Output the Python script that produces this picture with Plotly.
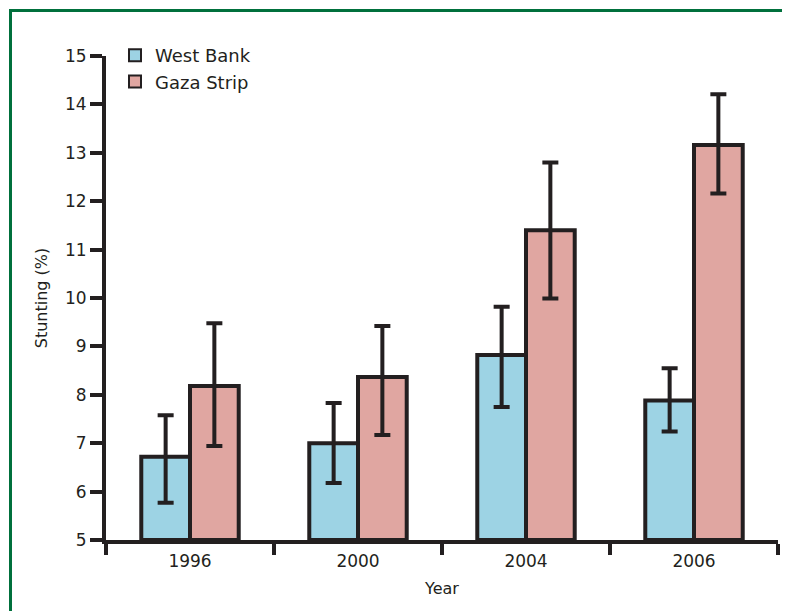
import plotly.graph_objects as go

years = ["1996", "2000", "2004", "2006"]
west_bank = [6.72, 7.0, 8.82, 7.88]
west_bank_hi = [7.58, 7.83, 9.82, 8.55]
west_bank_lo = [5.77, 6.18, 7.75, 7.24]
gaza = [8.18, 8.37, 11.4, 13.16]
gaza_hi = [9.48, 9.42, 12.8, 14.21]
gaza_lo = [6.94, 7.17, 9.99, 12.16]
y_ticks = list(range(5, 16))

INK = "#231f20"
FONT = "DejaVu Sans, Liberation Sans, sans-serif"

def err(vals, hi, lo):
    return dict(type="data", symmetric=False,
                array=[h - v for h, v in zip(hi, vals)],
                arrayminus=[v - l for v, l in zip(vals, lo)],
                color=INK, thickness=4, width=8)

fig = go.Figure()
fig.add_trace(go.Bar(name="West Bank", x=years, y=[v - 5 for v in west_bank], base=5,
                     marker=dict(color="#9dd3e4", line=dict(color=INK, width=4)),
                     error_y=err(west_bank, west_bank_hi, west_bank_lo)))
fig.add_trace(go.Bar(name="Gaza Strip", x=years, y=[v - 5 for v in gaza], base=5,
                     marker=dict(color="#e0a6a1", line=dict(color=INK, width=4)),
                     error_y=err(gaza, gaza_hi, gaza_lo)))

# page body adds an 8px offset; work in screen coordinates and convert
OFF = 8
W, H = 790 - OFF, 611 - OFF
L, R, T, B = 106 - OFF, 12, 56 - OFF, 71
pw, ph = W - L - R, H - T - B

def px(x):
    return (x - OFF - L) / pw

def py(y):
    return (H - B - (y - OFF)) / ph

fig.update_layout(
    width=W, height=H,
    margin=dict(l=L, r=R, t=T, b=B),
    paper_bgcolor="white", plot_bgcolor="white",
    barmode="group", bargap=0.42, bargroupgap=0,
    font=dict(family=FONT, size=17, color=INK),
    showlegend=True,
    legend=dict(x=px(115), y=py(37), xanchor="left", yanchor="top",
                bgcolor="rgba(0,0,0,0)", font=dict(size=18, color=INK),
                tracegroupgap=3, itemsizing="constant"),
    xaxis=dict(type="category", range=[-0.5, 3.5], tickson="boundaries",
               ticks="outside", ticklen=11, tickwidth=4, tickcolor=INK,
               showline=True, linewidth=4, linecolor=INK, showgrid=False,
               ticklabelstandoff=3,
               title=dict(text="Year", font=dict(size=16), standoff=13),
               tickfont=dict(size=17)),
    yaxis=dict(range=[5, 15], tickvals=y_ticks, ticktext=[str(t) for t in y_ticks],
               ticks="outside", ticklen=12, tickwidth=4, tickcolor=INK,
               showline=True, linewidth=4, linecolor=INK, showgrid=False,
               zeroline=False,
               title=dict(text="Stunting (%)", font=dict(size=16), standoff=14),
               tickfont=dict(size=17)),
    shapes=[
        dict(type="line", xref="paper", yref="paper", x0=px(9), x1=px(800),
             y0=py(10.5), y1=py(10.5), line=dict(color="#00703c", width=3)),
        dict(type="line", xref="paper", yref="paper", x0=px(10.5), x1=px(10.5),
             y0=py(9), y1=py(620), line=dict(color="#00703c", width=3)),
    ],
)

fig.write_html("out.html")
